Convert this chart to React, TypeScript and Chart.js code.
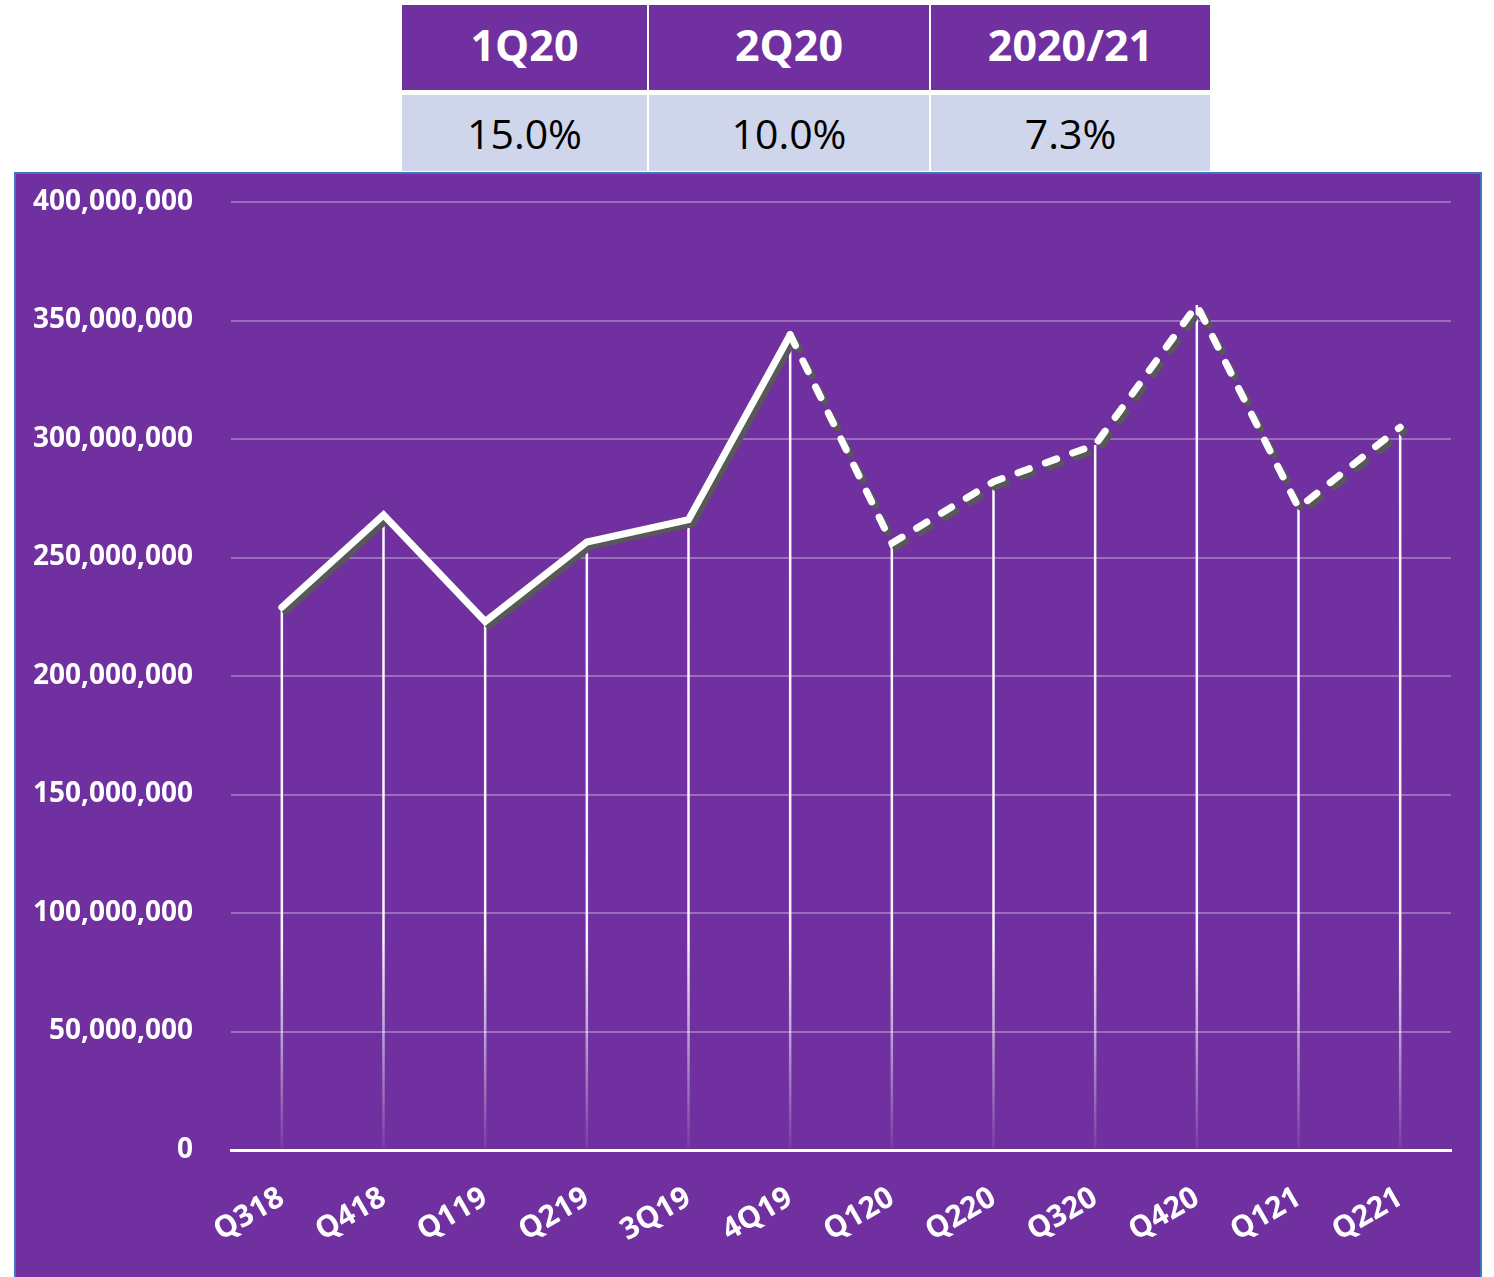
import React, { useEffect, useRef } from 'react';
import { Chart, registerables } from 'chart.js';

Chart.register(...registerables);

const quarters = ['Q318', 'Q418', 'Q119', 'Q219', '3Q19', '4Q19', 'Q120', 'Q220', 'Q320', 'Q420', 'Q121', 'Q221'];
const revenue = [229000000, 268000000, 223000000, 256500000, 266000000, 344000000, 256000000, 282000000, 297500000, 356500000, 271000000, 305000000];
const forecastStartIndex = 5;
const yMin = 0;
const yMax = 400000000;
const yStep = 50000000;
const tableHeaders = ['1Q20', '2Q20', '2020/21'];
const tableValues = ['15.0%', '10.0%', '7.3%'];

const PURPLE = '#7030A0';

const dropLinePlugin = {
  id: 'dropLines',
  beforeDatasetsDraw(chart: any) {
    const { ctx, chartArea } = chart;
    const meta = chart.getDatasetMeta(0);
    const grad = ctx.createLinearGradient(0, chartArea.top, 0, chartArea.bottom);
    grad.addColorStop(0, 'rgba(255,255,255,1)');
    grad.addColorStop(0.78, 'rgba(255,255,255,0.95)');
    grad.addColorStop(1, 'rgba(255,255,255,0.06)');
    ctx.save();
    ctx.strokeStyle = grad;
    ctx.lineWidth = 2.5;
    meta.data.forEach((pt: any) => {
      ctx.beginPath();
      ctx.moveTo(pt.x, pt.y);
      ctx.lineTo(pt.x, chartArea.bottom - 2);
      ctx.stroke();
    });
    ctx.restore();
  },
};

const shadowPlugin = {
  id: 'lineShadow',
  beforeDatasetDraw(chart: any) {
    const ctx = chart.ctx;
    ctx.save();
    ctx.shadowColor = 'rgba(88,88,88,1)';
    ctx.shadowOffsetX = 4;
    ctx.shadowOffsetY = 4;
    ctx.shadowBlur = 0;
  },
  afterDatasetDraw(chart: any) {
    chart.ctx.restore();
  },
};

function LineChart() {
  const ref = useRef<HTMLCanvasElement | null>(null);
  useEffect(() => {
    if (!ref.current) return;
    const chart = new Chart(ref.current, {
      type: 'line',
      data: {
        labels: quarters,
        datasets: [
          {
            data: revenue,
            borderColor: '#FFFFFF',
            borderWidth: 7,
            borderCapStyle: 'round',
            borderJoinStyle: 'miter',
            pointRadius: 0,
            tension: 0,
            fill: false,
            segment: {
              borderDash: (c: any) => (c.p0DataIndex >= forecastStartIndex ? [12, 17] : undefined),
            },
          } as any,
        ],
      },
      options: {
        animation: false,
        responsive: false,
        maintainAspectRatio: false,
        layout: { autoPadding: false, padding: { top: 28, right: 29, left: 0, bottom: 0 } },
        plugins: { legend: { display: false }, tooltip: { enabled: false } },
        scales: {
          x: {
            offset: true,
            grid: { display: false, drawTicks: false },
            border: { display: true, color: '#FFFFFF', width: 3 },
            ticks: {
              color: '#FFFFFF',
              font: { family: 'Open Sans', weight: 'bold', size: 30 },
              minRotation: 30,
              maxRotation: 30,
              padding: 30,
              autoSkip: false,
            },
            afterFit: (s: any) => {
              s.height = 127;
              s.paddingLeft = 0;
              s.paddingRight = 0;
            },
          },
          y: {
            min: yMin,
            max: yMax,
            grid: { color: 'rgba(255,255,255,0.3)', lineWidth: 2, drawTicks: false },
            border: { display: false },
            ticks: {
              stepSize: yStep,
              color: '#FFFFFF',
              padding: 38,
              font: { family: 'Open Sans', weight: 'bold', size: 28 },
              callback: (v: any) => Number(v).toLocaleString('en-US'),
            },
            afterFit: (s: any) => {
              s.width = 215;
              s.paddingTop = 0;
              s.paddingBottom = 0;
            },
          },
        },
      } as any,
      plugins: [dropLinePlugin, shadowPlugin],
    });
    return () => chart.destroy();
  }, []);
  return <canvas ref={ref} width={1464} height={1103} style={{ position: 'absolute', left: 0, top: 0, width: 1464, height: 1103 }} />;
}

const colBounds = [
  [402, 647],
  [649, 929],
  [931, 1210],
];

export default function App() {
  useEffect(() => {
    document.body.style.margin = '0';
  }, []);
  return (
    <div style={{ position: 'relative', width: 1494, height: 1277, overflow: 'hidden', background: '#FFFFFF', fontFamily: 'Open Sans' }}>
      {colBounds.map(([l, r], i) => (
        <React.Fragment key={i}>
          <div
            style={{
              position: 'absolute',
              left: l,
              top: 5,
              width: r - l,
              height: 85,
              background: PURPLE,
              display: 'flex',
              alignItems: 'center',
              justifyContent: 'center',
            }}
          >
            <span style={{ display: 'inline-block', color: '#FFFFFF', fontWeight: 700, fontSize: 43, lineHeight: 1, transform: 'translateY(-3px)' }}>
              {tableHeaders[i]}
            </span>
          </div>
          <div
            style={{
              position: 'absolute',
              left: l,
              top: 95,
              width: r - l,
              height: 76,
              background: '#CFD5EA',
              display: 'flex',
              alignItems: 'center',
              justifyContent: 'center',
            }}
          >
            <span style={{ display: 'inline-block', color: '#000000', fontWeight: 400, fontSize: 41, lineHeight: 1 }}>
              {tableValues[i]}
            </span>
          </div>
        </React.Fragment>
      ))}
      <div
        style={{
          position: 'absolute',
          left: 14,
          top: 172,
          width: 1464,
          height: 1120,
          background: PURPLE,
          borderLeft: '2px solid #4472C4',
          borderRight: '2px solid #4472C4',
          borderTop: '2px solid #4472C4',
        }}
      >
        <LineChart />
      </div>
    </div>
  );
}
